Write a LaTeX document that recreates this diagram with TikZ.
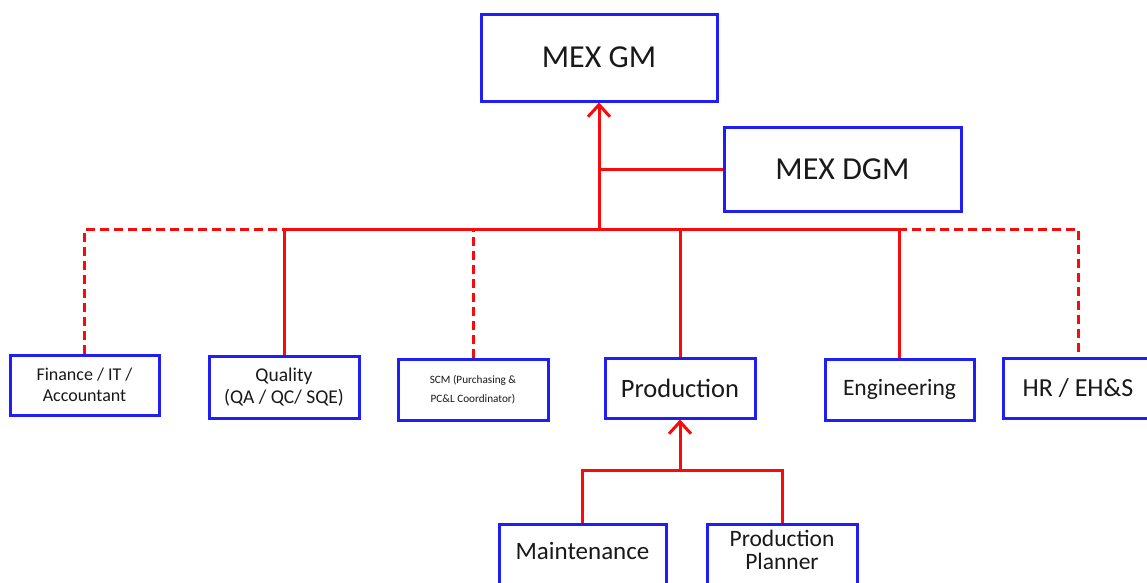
\documentclass[tikz,border=0pt]{standalone}
\usepackage{fontspec}
\setmainfont{Carlito}
\usetikzlibrary{arrows.meta}
\definecolor{boxblue}{RGB}{30,30,245}
\definecolor{linkred}{RGB}{250,10,10}
\tikzset{
  unit/.style={draw=boxblue, line width=3pt, fill=white, inner sep=0pt, align=center, text=black!90},
  link/.style={draw=linkred, line width=3pt},
  dotted link/.style={link, dash pattern=on 9pt off 5pt},
  up arrow/.style={-{Straight Barb[length=12pt,width=22pt,line width=3pt]}}
}
\newcommand{\fs}[1]{\fontsize{#1}{1.15\dimexpr#1pt\relax}\selectfont}
\begin{document}
\begin{tikzpicture}[x=1pt,y=-1pt]
\useasboundingbox (0,0) rectangle (1147,582);
% top management
\node[unit, minimum width=236pt, minimum height=87pt, font=\fs{32}] (gm) at (599,57.5) {MEX GM};
\node[unit, minimum width=237pt, minimum height=84pt, font=\fs{32}] (dgm) at (842.5,169) {MEX DGM};
% departments
\node[unit, minimum width=149pt, minimum height=60pt, font=\fs{18}] (fin) at (84.5,385) {Finance / IT /\\Accountant};
\node[unit, minimum width=150pt, minimum height=62pt, font=\fs{19.5}] (qa) at (284,387) {Quality\\(QA / QC/ SQE)};
\node[unit, minimum width=150pt, minimum height=61pt, font=\fontsize{11.2}{19}\selectfont] (scm) at (473,389.5) {SCM (Purchasing \&\\PC\&L Coordinator)};
\node[unit, minimum width=150pt, minimum height=60pt, font=\fs{26.5}] (prod) at (680,388) {Production};
\node[unit, minimum width=149pt, minimum height=61pt, font=\fs{23.5}] (eng) at (899.5,389.5) {Engineering};
\node[unit, minimum width=150pt, minimum height=60pt, font=\fs{26}] (hr) at (1078,388) {HR / EH\&S};
% production sub-units (boxes run past the lower edge, text sits in the visible part)
\node[unit, minimum width=167pt, minimum height=70pt, font=\fs{25}, anchor=north] (mnt) at (582.5,523)
  {\raisebox{0pt}[0pt][0pt]{Maintenance}};
\node[unit, minimum width=150pt, minimum height=70pt, font=\fontsize{23.5}{23}\selectfont, anchor=north] (plan) at (782,523)
  {\raisebox{0pt}[0pt][0pt]{\begin{tabular}{@{}c@{}}Production\\Planner\end{tabular}}};
% bus coordinates
\coordinate (hub) at (599,229);
\coordinate (dl) at (fin.north |- hub);
\coordinate (dr) at (hr.north |- hub);
\coordinate (sl) at (qa.north |- hub);
\coordinate (sr) at (eng.north |- hub);
\coordinate (pj) at (prod.south |- 0,470);
% dotted reporting lines
\draw[dotted link] (fin.north) -- (dl) -- (dr) -- (hr.north);
\draw[dotted link] (scm.north) -- (scm.north |- hub);
% solid reporting lines
\draw[link] (qa.north) -- (sl) -- (sr) -- (eng.north);
\draw[link] (prod.north) -- (prod.north |- hub);
\draw[link, up arrow] (hub) -- (gm.south);
\draw[link] (dgm.west) -- (gm.south |- dgm.west);
% production branch
\draw[link] (mnt.north) -- (mnt.north |- pj) -- (plan.north |- pj) -- (plan.north);
\draw[link, up arrow] (pj) -- (prod.south);
\end{tikzpicture}
\end{document}
